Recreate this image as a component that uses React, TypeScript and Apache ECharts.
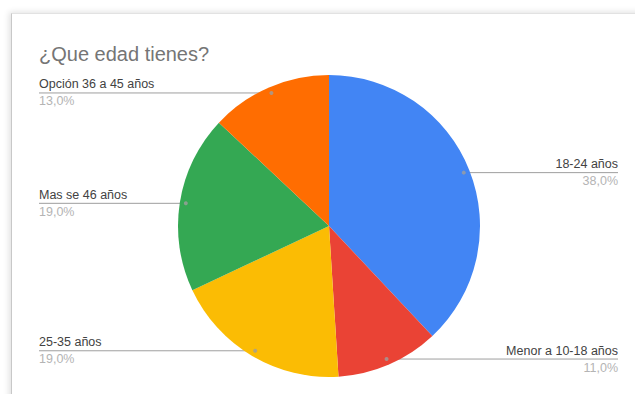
import React, { useEffect, useRef } from "react";
import * as echarts from "echarts";

const title = "¿Que edad tienes?";
const categories = ["18-24 años", "Menor a 10-18 años", "25-35 años", "Mas se 46 años", "Opción 36 a 45 años"];
const values = [38, 11, 19, 19, 13];
const colors = ["#4285F4", "#EA4335", "#FBBC04", "#34A853", "#FF6D01"];

const CX = 329;
const CY = 226;
const R = 151;
const DOT_R = 0.96;
const LEFT_X = 39;
const RIGHT_X = 618;

const total = values.reduce((a, b) => a + b, 0);
const midPercents = values.map((v, i) => {
  const before = values.slice(0, i).reduce((a, b) => a + b, 0);
  return ((before + v / 2) / total) * 100;
});

export default function App() {
  const ref = useRef<HTMLDivElement>(null);
  useEffect(() => {
    if (!ref.current) return;
    const chart = echarts.init(ref.current, undefined, { renderer: "svg" });
    chart.setOption({
      animation: false,
      backgroundColor: "transparent",
      title: {
        text: title,
        left: LEFT_X,
        top: 44,
        padding: 0,
        textStyle: {
          color: "#757575",
          fontSize: 20,
          fontWeight: "normal",
          fontFamily: "Arial, 'Liberation Sans', sans-serif",
        },
      },
      polar: { center: [CX, CY], radius: R },
      angleAxis: {
        type: "value",
        min: 0,
        max: 100,
        startAngle: 90,
        clockwise: true,
        show: false,
      },
      radiusAxis: { type: "value", min: 0, max: 1, show: false },
      series: [
        {
          type: "pie",
          center: [CX, CY],
          radius: R,
          startAngle: 90,
          clockwise: true,
          avoidLabelOverlap: false,
          data: categories.map((c, i) => ({
            name: c,
            value: values[i],
            itemStyle: { color: colors[i] },
          })),
          label: {
            show: true,
            formatter: (p: any) =>
              `{n|${p.name}}\n{p|${p.percent.toFixed(1).replace(".", ",")}%}`,
            rich: {
              n: {
                fontSize: 12.5,
                color: "#424242",
                fontFamily: "Arial, 'Liberation Sans', sans-serif",
                lineHeight: 17,
              },
              p: {
                fontSize: 12.5,
                color: "#b4b4b4",
                fontFamily: "Arial, 'Liberation Sans', sans-serif",
                lineHeight: 17,
              },
            },
          },
          labelLine: {
            show: true,
            length: 0,
            length2: 10,
            lineStyle: { color: "#9e9e9e", width: 1 },
          },
          labelLayout: (params: any) => {
            const i = params.dataIndex;
            const ang = (midPercents[i] / 100) * Math.PI * 2;
            const x = CX + R * DOT_R * Math.sin(ang);
            const y = CY - R * DOT_R * Math.cos(ang);
            const isLeft = x < CX;
            const ex = isLeft ? LEFT_X : RIGHT_X;
            return {
              x: ex,
              y: y,
              align: isLeft ? "left" : "right",
              verticalAlign: "middle",
              labelLinePoints: [
                [x, y],
                [x, y],
                [ex, y],
              ],
            };
          },
        },
        {
          type: "scatter",
          coordinateSystem: "polar",
          symbol: "circle",
          symbolSize: 4,
          itemStyle: { color: "#9e9e9e" },
          z: 5,
          silent: true,
          data: midPercents.map((m) => [DOT_R, m]),
        },
      ],
    });
    return () => chart.dispose();
  }, []);

  return (
    <div
      style={{
        position: "fixed",
        left: 0,
        top: 0,
        width: 635,
        height: 394,
        background: "#ffffff",
        overflow: "hidden",
      }}
    >
      <div
        style={{
          position: "absolute",
          left: 11,
          top: 13,
          width: 700,
          height: 500,
          background: "#ffffff",
          borderLeft: "1px solid #c8c8c8",
          borderTop: "1px solid #e2e2e2",
          boxShadow: "-2px -1px 6px rgba(0,0,0,0.12)",
        }}
      />
      <div
        ref={ref}
        style={{ position: "absolute", left: 0, top: 0, width: 635, height: 394 }}
      />
    </div>
  );
}
